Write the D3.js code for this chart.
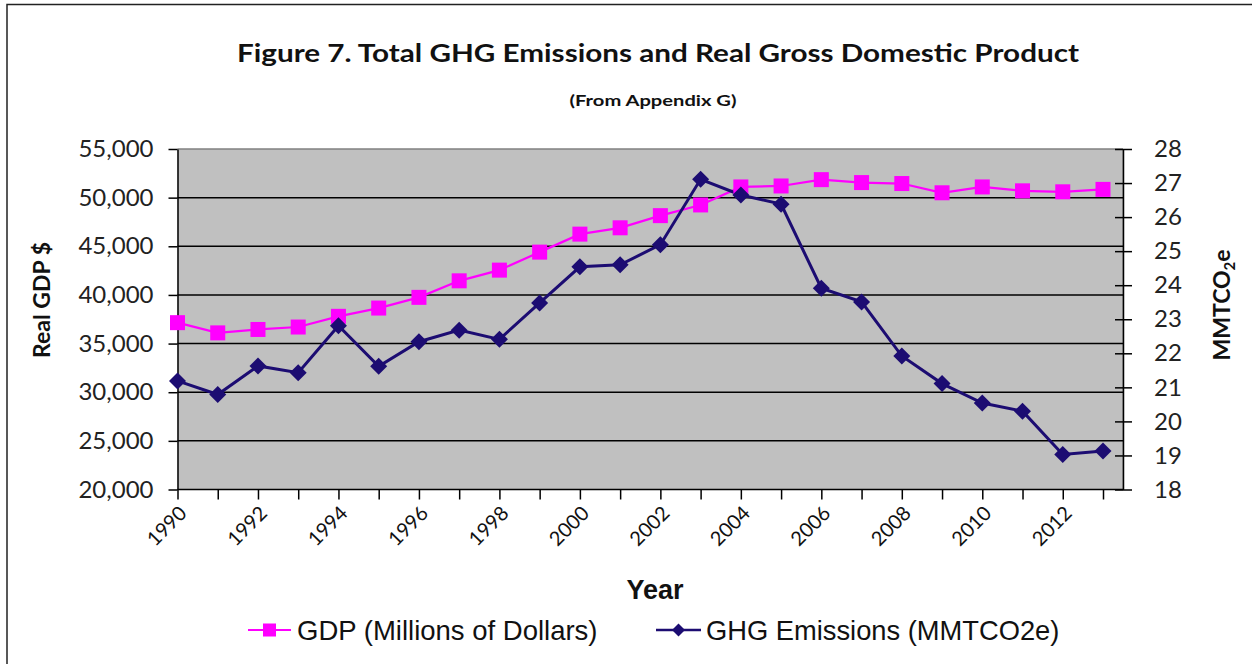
<!DOCTYPE html>
<html><head><meta charset="utf-8">
<script src="https://cdn.jsdelivr.net/npm/d3@7/dist/d3.min.js"></script>
<style>
html,body{margin:0;padding:0;background:#fff;}
svg{display:block;}
</style></head>
<body>
<svg id="chart" width="1252" height="664"></svg>
<script>
const years = [1990,1991,1992,1993,1994,1995,1996,1997,1998,1999,2000,2001,2002,2003,2004,2005,2006,2007,2008,2009,2010,2011,2012,2013];
const gdp = [37150,36100,36450,36700,37800,38650,39750,41450,42550,44400,46250,46900,48150,49250,51100,51200,51850,51550,51450,50500,51100,50700,50600,50850];
const ghg = [21.19,20.79,21.63,21.43,22.81,21.62,22.34,22.68,22.41,23.48,24.54,24.60,25.19,27.11,26.65,26.38,23.91,23.51,21.92,21.11,20.54,20.30,19.03,19.13];
const leftTicks = [20000,25000,30000,35000,40000,45000,50000,55000];
const rightTicks = [18,19,20,21,22,23,24,25,26,27,28];
const yearLabels = [1990,1992,1994,1996,1998,2000,2002,2004,2006,2008,2010,2012];
const titleText = "Figure 7. Total GHG Emissions and Real Gross Domestic Product";
const subtitleText = "(From Appendix  G)";
const seriesNames = ["GDP (Millions of Dollars)", "GHG Emissions (MMTCO2e)"];

const svg = d3.select("#chart");
const PL = 177.5, PR = 1123, PT = 149, PB = 489.5;
const GDPC = "#ff00ff", GHGC = "#1c0c72";

// frame
svg.append("rect").attr("x",7).attr("y",4.5).attr("width",1300).attr("height",700)
  .attr("fill","none").attr("stroke","#222").attr("stroke-width",1.5);

const x = d3.scalePoint().domain(years).range([PL, 1103]);
const yL = d3.scaleLinear().domain([20000,55000]).range([PB, PT]);
const yR = d3.scaleLinear().domain([18,28]).range([PB, PT]);

// plot background
svg.append("rect").attr("x",PL).attr("y",PT).attr("width",PR-PL).attr("height",PB-PT).attr("fill","#c0c0c0");
svg.append("line").attr("x1",PL).attr("x2",PR).attr("y1",PT).attr("y2",PT).attr("stroke","#808080").attr("stroke-width",1.5);
svg.append("line").attr("x1",PR).attr("x2",PR).attr("y1",PT).attr("y2",PB).attr("stroke","#808080").attr("stroke-width",1);

// gridlines
svg.append("g").selectAll("line").data(leftTicks.filter(d=>d>20000 && d<55000)).join("line")
  .attr("x1",PL).attr("x2",PR).attr("y1",d=>yL(d)).attr("y2",d=>yL(d))
  .attr("stroke","#000").attr("stroke-width",1.5);

// left axis
const fmt = d3.format(",");
const gL = svg.append("g").attr("transform",`translate(${PL},0)`)
  .call(d3.axisLeft(yL).tickValues(leftTicks).tickFormat(fmt).tickSizeInner(9).tickSizeOuter(0).tickPadding(15));
gL.select(".domain").attr("stroke","#000").attr("stroke-width",1.5);
gL.selectAll(".tick line").attr("stroke","#000").attr("stroke-width",1.5);
gL.selectAll(".tick text").attr("font-family","Lato, sans-serif").attr("font-size",24).attr("fill","#222");

// right axis
const gR = svg.append("g").attr("transform",`translate(${PR},0)`)
  .call(d3.axisRight(yR).tickValues(rightTicks).tickSizeInner(9).tickSizeOuter(0).tickPadding(22));
gR.select(".domain").attr("stroke","#000").attr("stroke-width",1.5);
gR.selectAll(".tick line").attr("stroke","#000").attr("stroke-width",1.5).attr("x1",-8);
gR.selectAll(".tick text").attr("font-family","Lato, sans-serif").attr("font-size",24).attr("fill","#222");

// bottom axis
const gB = svg.append("g").attr("transform",`translate(0,${PB})`)
  .call(d3.axisBottom(x).tickValues(years).tickSizeInner(10).tickSizeOuter(0).tickFormat(d=> yearLabels.includes(d)? d : ""));
gB.select(".domain").attr("stroke","#000").attr("stroke-width",1.5).attr("d",`M${PL},0H${PR}`);
gB.selectAll(".tick line").attr("stroke","#000").attr("stroke-width",1.5);
gB.selectAll(".tick text").attr("font-family","Lato, sans-serif").attr("font-size",20).attr("fill","#111")
  .attr("text-anchor","end").attr("dy",0).attr("y",0)
  .attr("transform","translate(10,25) rotate(-45)");

// lines
const lineG = d3.line().x((d,i)=>x(years[i])).y(d=>yL(d));
const lineE = d3.line().x((d,i)=>x(years[i])).y(d=>yR(d));
svg.append("path").datum(gdp).attr("d",lineG).attr("fill","none").attr("stroke",GDPC).attr("stroke-width",2.2);
svg.append("path").datum(ghg).attr("d",lineE).attr("fill","none").attr("stroke",GHGC).attr("stroke-width",3);

svg.append("g").selectAll("rect").data(gdp).join("rect")
  .attr("x",(d,i)=>x(years[i])-7.5).attr("y",d=>yL(d)-7.5).attr("width",15).attr("height",15).attr("fill",GDPC);
const dia = (cx,cy,r)=>`M${cx},${cy-r}L${cx+r},${cy}L${cx},${cy+r}L${cx-r},${cy}Z`;
svg.append("g").selectAll("path").data(ghg).join("path")
  .attr("d",(d,i)=>dia(x(years[i]), yR(d), 8.5)).attr("fill",GHGC);

// titles
svg.append("text").attr("x",658).attr("y",62).attr("text-anchor","middle")
  .attr("font-family","Lato, sans-serif").attr("font-weight","bold").attr("font-size",25).attr("fill","#111")
  .attr("textLength",842).attr("lengthAdjust","spacingAndGlyphs").text(titleText);
svg.append("text").attr("x",653).attr("y",106).attr("text-anchor","middle")
  .attr("font-family","Lato, sans-serif").attr("font-weight","bold").attr("font-size",16).attr("fill","#111")
  .attr("textLength",167).attr("lengthAdjust","spacingAndGlyphs").text(subtitleText);

svg.append("text").attr("transform","translate(50,300) rotate(-90)").attr("text-anchor","middle")
  .attr("font-family","Lato, sans-serif").attr("font-weight","bold").attr("font-size",23).attr("fill","#111")
  .text("Real GDP $");
const rt = svg.append("text").attr("transform","translate(1230,305) rotate(-90)").attr("text-anchor","middle")
  .attr("font-family","Lato, sans-serif").attr("font-weight","bold").attr("font-size",23).attr("fill","#111");
rt.append("tspan").text("MMTCO");
rt.append("tspan").attr("font-size",15).attr("dy",5).text("2");
rt.append("tspan").attr("dy",-5).text("e");

svg.append("text").attr("x",655).attr("y",599).attr("text-anchor","middle")
  .attr("font-family","'Liberation Sans', Arial, sans-serif").attr("font-weight","bold").attr("font-size",27).attr("fill","#111")
  .text("Year");

// legend
const leg = [
  {name: seriesNames[0], color: GDPC, x1: 248, x2: 291, tx: 297, shape: "sq", fs: 27.5},
  {name: seriesNames[1], color: GHGC, x1: 656, x2: 701, tx: 706, shape: "di", fs: 27.3}
];
const LY = 630;
leg.forEach(l=>{
  svg.append("line").attr("x1",l.x1).attr("x2",l.x2).attr("y1",LY).attr("y2",LY).attr("stroke",l.color).attr("stroke-width",l.shape==="sq"?2.2:2.5);
  const cx = (l.x1+l.x2)/2;
  if(l.shape==="sq") svg.append("rect").attr("x",cx-6.5).attr("y",LY-6.5).attr("width",13).attr("height",13).attr("fill",l.color);
  else svg.append("path").attr("d",dia(cx,LY,6.5)).attr("fill",l.color);
  svg.append("text").attr("x",l.tx).attr("y",LY+10)
    .attr("font-family","'Liberation Sans', Arial, sans-serif").attr("font-size",l.fs).attr("fill","#111")
    .text(l.name);
});
</script>
</body></html>
